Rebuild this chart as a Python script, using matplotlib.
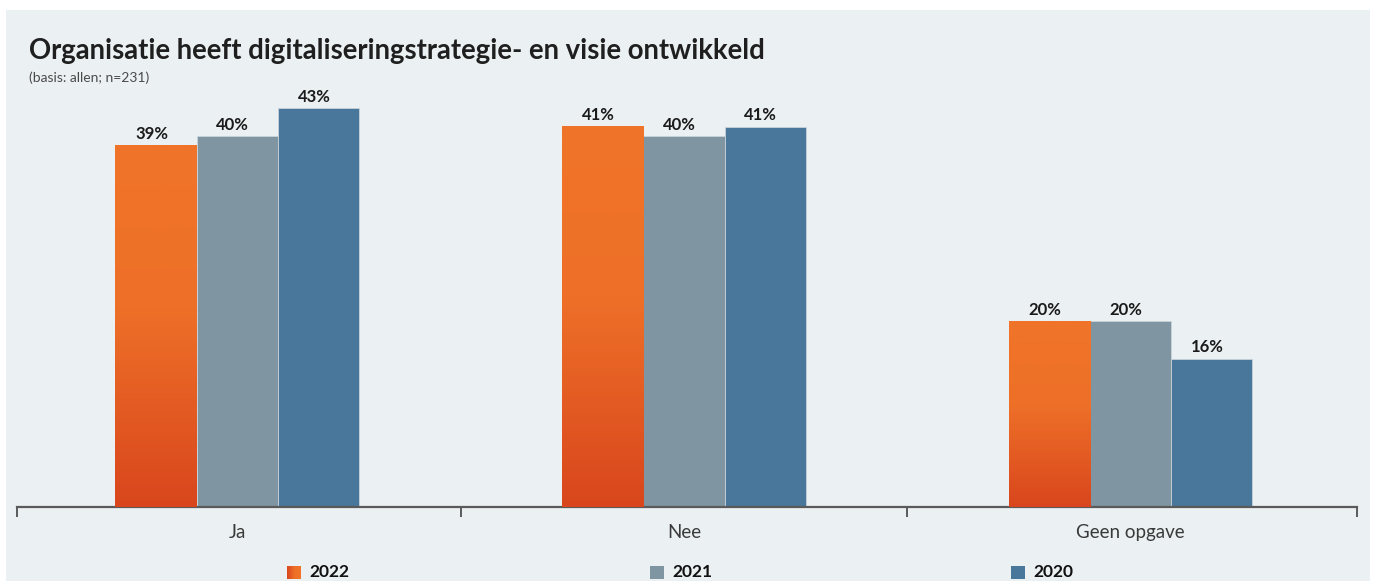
import numpy as np
import matplotlib.pyplot as plt
from matplotlib.patches import Rectangle
from matplotlib.colors import LinearSegmentedColormap

categories = ['Ja', 'Nee', 'Geen opgave']
years = ['2022', '2021', '2020']
values_2022 = [39, 41, 20]
values_2021 = [40, 40, 20]
values_2020 = [43, 41, 16]

W, H = 1373, 581
fig = plt.figure(figsize=(W / 100, H / 100), dpi=100)
fig.patch.set_facecolor('white')
fig.patches.append(Rectangle((6 / W, 0), (1370 - 6) / W, 1 - 10 / H,
                             transform=fig.transFigure, facecolor='#EBF0F3',
                             edgecolor='none', zorder=-10))

# axes: x from 17 to 1357 px, baseline at y=507 px
ax = fig.add_axes([17 / W, 1 - 507 / H, (1357 - 17) / W, (507 - 89.4) / H])
ax.set_facecolor('none')
xlim = (-0.493, 2.507)

x = np.arange(len(categories))
bw = 0.182
orange_cmap = LinearSegmentedColormap.from_list(
    'og', [(0, '#D9461D'), (0.55, '#EE7028'), (1, '#F07428')])
gray = '#7F95A1'
blue = '#49779B'

bars22 = ax.bar(x - bw, values_2022, bw, color='#EE7028', zorder=2)
grad = np.linspace(0, 1, 256).reshape(-1, 1)
for b in bars22:
    bx, by, bwid, bh = b.get_x(), b.get_y(), b.get_width(), b.get_height()
    ax.imshow(grad, cmap=orange_cmap, origin='lower', aspect='auto',
              extent=(bx, bx + bwid, by, by + bh), zorder=3)
bars21 = ax.bar(x, values_2021, bw, color=gray, zorder=2,
                edgecolor='#C9D3DA', linewidth=0.6)
bars20 = ax.bar(x + bw, values_2020, bw, color=blue, zorder=2,
                edgecolor='#C9D3DA', linewidth=0.6)
ax.set_xlim(*xlim)
ax.set_ylim(0, 45)

for bars, vals in [(bars22, values_2022), (bars21, values_2021), (bars20, values_2020)]:
    for b, v in zip(bars, vals):
        ax.text(b.get_x() + b.get_width() / 2 - 0.01, v + 0.35, f'{v}%',
                ha='center', va='bottom', fontsize=12, fontweight='bold',
                family='Lato', color='#1a1a1a')

for s in ['top', 'right', 'left']:
    ax.spines[s].set_visible(False)
ax.spines['bottom'].set_color('#5a5a5a')
ax.spines['bottom'].set_linewidth(1.6)
ax.set_yticks([])
ax.set_xticks(x)
ax.set_xticklabels(categories, fontsize=13.5, family='Lato', color='#3a3a3a')
ax.tick_params(axis='x', which='major', length=0, pad=12)
ax.set_xticks([xlim[0], 0.5, 1.5, xlim[1]], minor=True)
ax.tick_params(axis='x', which='minor', length=7, width=1.4, color='#5a5a5a',
               direction='out')

fig.text(29 / W, 1 - 51 / H, 'Organisatie heeft digitaliseringstrategie- en visie ontwikkeld',
         fontsize=19.8, fontweight='bold', family='Lato', color='#1f1f1f', va='center')
fig.text(29 / W, 1 - 78 / H, '(basis: allen; n=231)', fontsize=10,
         family='Lato', color='#4a4a4a', va='center')

# legend
legend_x = [287, 650, 1011]
for lx, yr, col in zip(legend_x, years, ['#E4591F', gray, blue]):
    if yr == '2022':
        lax = fig.add_axes([lx / W, 1 - 579 / H, 14 / W, 13 / H])
        lax.imshow(np.linspace(0, 1, 64).reshape(1, -1), cmap=orange_cmap,
                   aspect='auto')
        lax.axis('off')
    else:
        fig.patches.append(Rectangle((lx / W, 1 - 579 / H), 14 / W, 13 / H,
                                     transform=fig.transFigure, facecolor=col,
                                     edgecolor='none'))
    fig.text((lx + 22) / W, 1 - 572 / H, yr, fontsize=12.5, fontweight='bold',
             family='Lato', color='#111111', va='center')

fig.savefig('out.png', dpi=100, facecolor='white')
